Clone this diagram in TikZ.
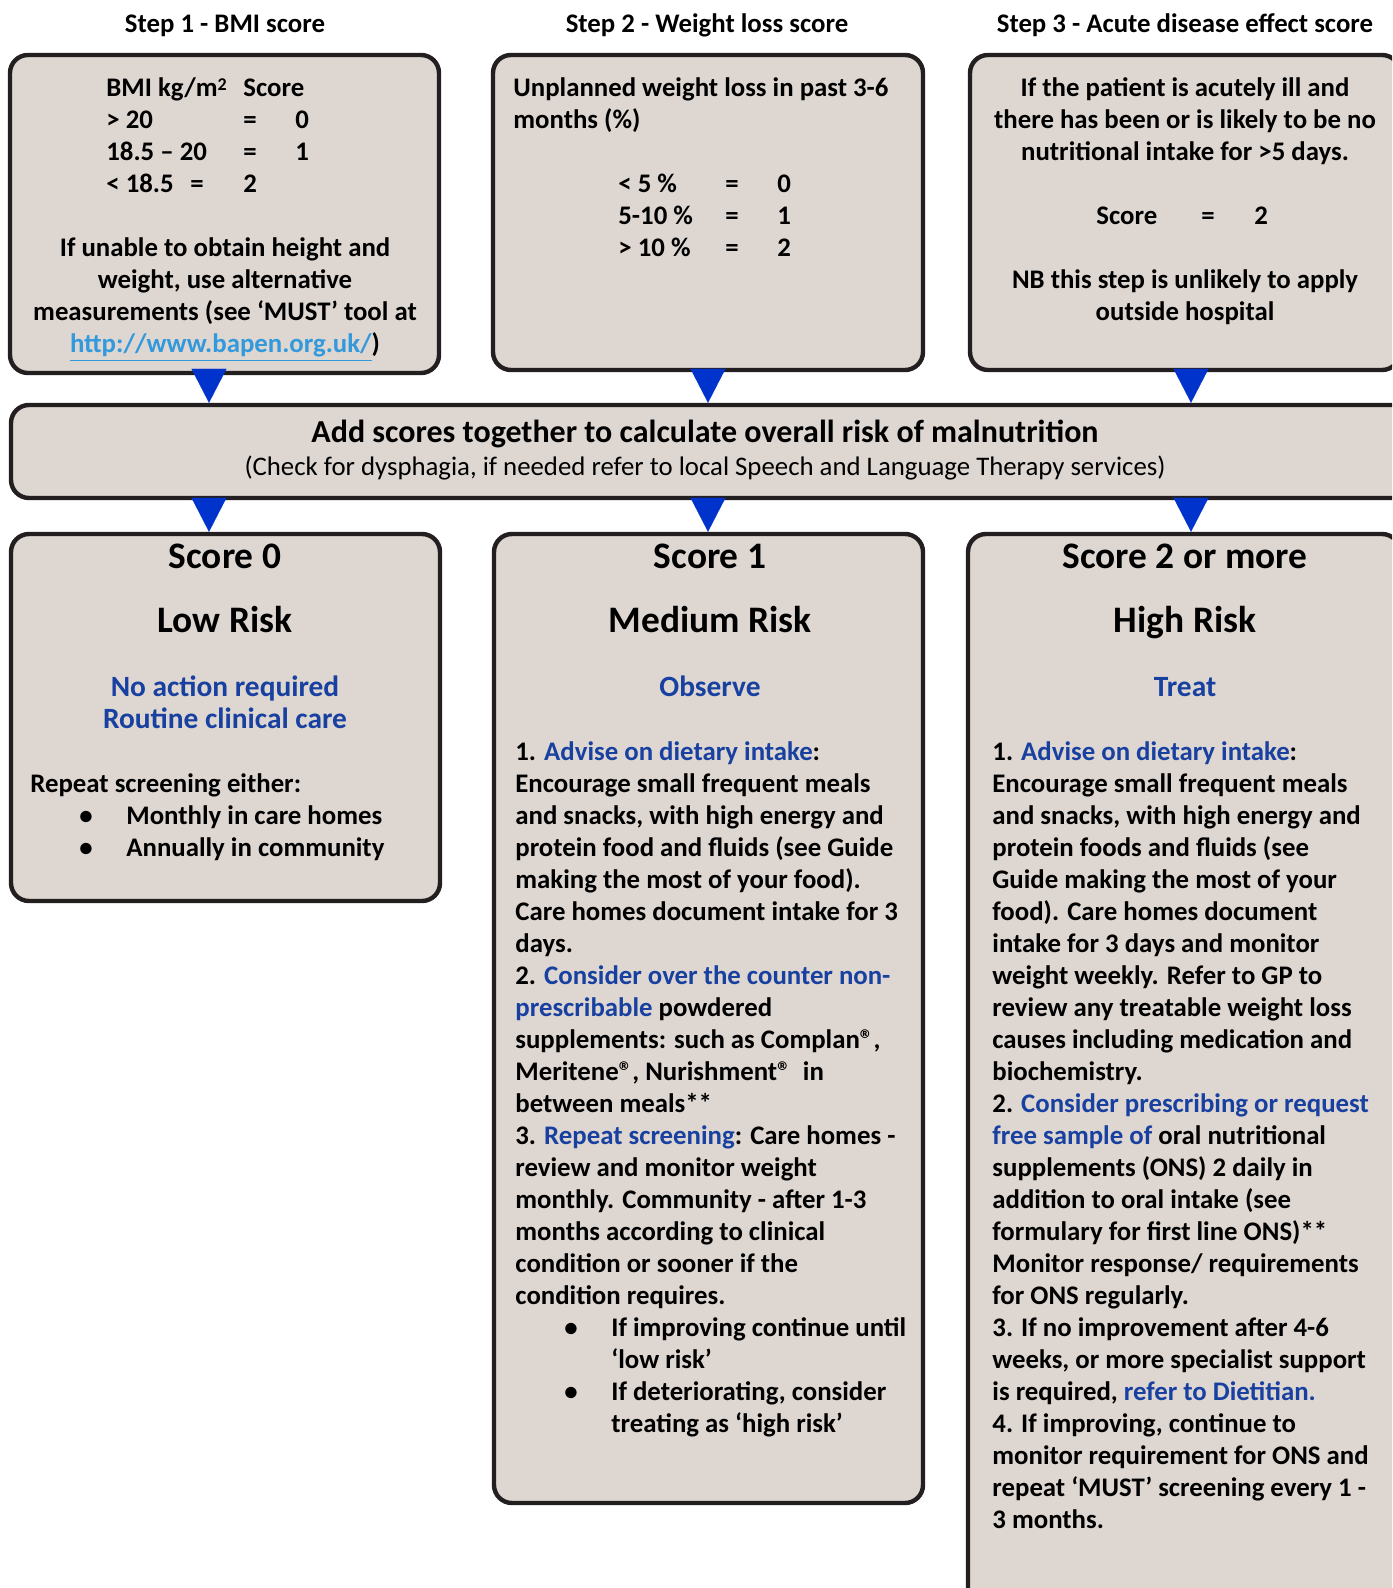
\documentclass[tikz,border=0pt]{standalone}
\usepackage{fontspec}
\setmainfont{Carlito}
\usepackage{xcolor}
\usepackage{tikz}
\usetikzlibrary{shapes,arrows.meta,fit,positioning}

\definecolor{boxgrey}{RGB}{221,214,209}
\definecolor{boxline}{RGB}{35,31,32}
\definecolor{darkblue}{RGB}{24,64,160}
\definecolor{arrowblue}{RGB}{0,51,204}
\definecolor{linkblue}{RGB}{51,153,221}

\newcommand{\bluetxt}[1]{\textcolor{darkblue}{#1}}
\newcommand{\supsmall}[1]{\raisebox{3pt}{\fontsize{9}{9}\selectfont #1}}
\newcommand{\regmark}{®}

\tikzstyle{block} = [draw=boxline, fill=boxgrey, line width=2.2pt, rounded corners=9pt, inner sep=0pt]
\tikzstyle{steptitle} = [font=\bfseries\fontsize{13.4}{16}\selectfont, anchor=base]
\tikzstyle{textc} = [font=\bfseries\fontsize{13.4}{16}\selectfont, align=center, anchor=base]
\tikzstyle{textl} = [font=\bfseries\fontsize{13.4}{16}\selectfont, align=left, anchor=base west, inner sep=0pt]
\tikzstyle{addhead} = [font=\bfseries\fontsize{16}{18}\selectfont, anchor=base]
\tikzstyle{addnote} = [font=\fontsize{13.4}{16}\selectfont, anchor=base]
\tikzstyle{bighead} = [font=\bfseries\fontsize{18.7}{22}\selectfont, anchor=base]
\tikzstyle{action} = [font=\bfseries\fontsize{14.7}{16}\selectfont, text=darkblue, align=center, anchor=base]
\tikzstyle{arrow1} = [line width=0.1pt, arrowblue, -{Triangle[length=17pt,width=17.5pt]}]

\begin{document}
\begin{tikzpicture}[x=0.5pt, y=-0.5pt]
\useasboundingbox (0,0) rectangle (1392,1588);
\clip (0,0) rectangle (1392,1588);

% Place boxes
\node [block, fit={(10,55) (439,373)}] (bmi) {};
\node [block, fit={(493,55) (923,370)}] (loss) {};
\node [block, fit={(970,55) (1400,370)}] (acute) {};
\node [block, fit={(11,405) (1410,498)}] (total) {};
\node [block, fit={(11,534) (440,901)}] (low) {};
\node [block, fit={(494,534) (923,1503)}] (medium) {};
\node [block, fit={(968,534) (1400,1620)}] (high) {};

\coordinate (col1) at (209,0);
\coordinate (col2) at (708,0);
\coordinate (col3) at (1191,0);

% Step titles
\node [steptitle] (step1) at (225,33) {Step 1 - BMI score};
\node [steptitle] (step2) at (707,33) {Step 2 - Weight loss score};
\node [steptitle] (step3) at (1185,33) {Step 3 - Acute disease effect score};

% Step 1 (multi-line nodes sit on their last baseline)
\node [textl] (bmitable) at (106,193) {\makebox[68.5pt][l]{BMI kg/m\supsmall{2}}Score\\
\makebox[68.5pt][l]{> 20}\makebox[26pt][l]{=}0\\
\makebox[68.5pt][l]{18.5 – 20}\makebox[26pt][l]{=}1\\
\makebox[42pt][l]{< 18.5}\makebox[26.5pt][l]{=}2};
\node [textc] (bmialt) at (225,353) {If unable to obtain height and\\
weight, use alternative\\
measurements (see ‘MUST’ tool at\\
\textcolor{linkblue}{\underline{http://www.bapen.org.uk/}})};

% Step 2
\node [textl] (losshead) at (513,129) {Unplanned weight loss in past 3-6\\months (\%)};
\node [textl] (losstable) at (618,257) {\makebox[53.5pt][l]{< 5 \%}\makebox[26pt][l]{=}0\\
\makebox[53.5pt][l]{5-10 \%}\makebox[26pt][l]{=}1\\
\makebox[53.5pt][l]{> 10 \%}\makebox[26pt][l]{=}2};

% Step 3
\node [textc] (acutehead) at (1185,161) {If the patient is acutely ill and\\
there has been or is likely to be no\\
nutritional intake for >5 days.};
\node [textl] (acutescore) at (1096,225) {\makebox[52.5pt][l]{Score}\makebox[26.5pt][l]{=}2};
\node [textc] (acutenb) at (1185,321) {NB this step is unlikely to apply\\outside hospital};

% Total
\node [addhead] (addtxt) at (705,443) {Add scores together to calculate overall risk of malnutrition};
\node [addnote] (addsub) at (705,475) {(Check for dysphagia, if needed refer to local Speech and Language Therapy services)};

% Score 0
\node [bighead] (score0) at (225,568) {Score 0};
\node [bighead] (risk0) at (225,632) {Low Risk};
\node [action] (act0) at (225,728) {No action required\\Routine clinical care};
\node [textl] (body0) at (30,856) {Repeat screening either:\\
\hspace*{24.5pt}\makebox[23.5pt][l]{\textbullet}Monthly in care homes\\
\hspace*{24.5pt}\makebox[23.5pt][l]{\textbullet}Annually in community};

% Score 1
\node [bighead] (score1) at (710,568) {Score 1};
\node [bighead] (risk1) at (710,632) {Medium Risk};
\node [action] (act1) at (710,696) {Observe};
\node [textl] (body1) at (515,1432) {1. \bluetxt{Advise on dietary intake}:\\
Encourage small frequent meals\\
and snacks, with high energy and\\
protein food and fluids (see Guide\\
making the most of your food).\\
Care homes document intake for 3\\
days.\\
2. \bluetxt{Consider over the counter non-}\\
\bluetxt{prescribable} powdered\\
supplements: such as Complan\regmark,\\
Meritene\regmark, Nurishment\regmark\ \ in\\
between meals**\\
3. \bluetxt{Repeat screening}: Care homes -\\
review and monitor weight\\
monthly. Community - after 1-3\\
months according to clinical\\
condition or sooner if the\\
condition requires.\\
\hspace*{24.5pt}\makebox[23.5pt][l]{\textbullet}If improving continue until\\
\hspace*{48pt}‘low risk’\\
\hspace*{24.5pt}\makebox[23.5pt][l]{\textbullet}If deteriorating, consider\\
\hspace*{48pt}treating as ‘high risk’};

% Score 2 or more
\node [bighead] (score2) at (1185,568) {Score 2 or more};
\node [bighead] (risk2) at (1185,632) {High Risk};
\node [action] (act2) at (1185,696) {Treat};
\node [textl] (body2) at (992,1528) {1. \bluetxt{Advise on dietary intake}:\\
Encourage small frequent meals\\
and snacks, with high energy and\\
protein foods and fluids (see\\
Guide making the most of your\\
food). Care homes document\\
intake for 3 days and monitor\\
weight weekly. Refer to GP to\\
review any treatable weight loss\\
causes including medication and\\
biochemistry.\\
2. \bluetxt{Consider prescribing or request}\\
\bluetxt{free sample of} oral nutritional\\
supplements (ONS) 2 daily in\\
addition to oral intake (see\\
formulary for first line ONS)**\\
Monitor response/ requirements\\
for ONS regularly.\\
3. If no improvement after 4-6\\
weeks, or more specialist support\\
is required, \bluetxt{refer to Dietitian.}\\
4. If improving, continue to\\
monitor requirement for ONS and\\
repeat ‘MUST’ screening every 1 -\\
3 months.};

% Place lines
\draw [arrow1] (bmi.south -| col1) -- (total.north -| col1);
\draw [arrow1] (loss.south -| col2) -- (total.north -| col2);
\draw [arrow1] (acute.south -| col3) -- (total.north -| col3);
\draw [arrow1] (total.south -| col1) -- (low.north -| col1);
\draw [arrow1] (total.south -| col2) -- (medium.north -| col2);
\draw [arrow1] (total.south -| col3) -- (high.north -| col3);

\end{tikzpicture}
\end{document}
